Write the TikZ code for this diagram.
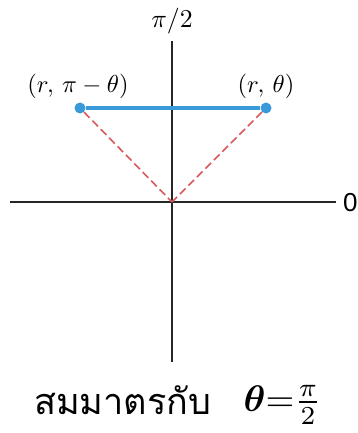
\documentclass[tikz,border=0pt]{standalone}
\usepackage{amsmath}
\usepackage{fontspec}
\newfontfamily\thaifont[Script=Thai]{Loma}
\newfontfamily\labfont{Liberation Sans}
\definecolor{ptblue}{HTML}{3A9AD9}
\definecolor{dashred}{HTML}{D9585A}
\begin{document}
\begin{tikzpicture}[x=1pt,y=-1pt,
  axis/.style={line width=1.3pt,black!85},
  pt/.style={circle,fill=ptblue,inner sep=0pt,minimum size=11pt},
  dashln/.style={dashred,line width=1.6pt,dash pattern=on 8pt off 4pt},
  lab/.style={inner sep=0pt,scale=2.45}]
\useasboundingbox (0,0) rectangle (358,433);
\coordinate (O) at (172,202);
\coordinate (T) at (172,41);
\coordinate (B) at (172,362);
\coordinate (L) at (10,202);
\coordinate (R) at (336,202);
\draw[axis] (T) -- (B);
\draw[axis] (L) -- (R);
\node[lab,scale=1.05] (ph) at (172,21) {$\pi/2$};
\node[inner sep=0pt,font=\labfont\fontsize{26}{28}\selectfont,anchor=west] (z) at (343,203) {0};
\node[pt] (P1) at (80,108) {};
\node[pt] (P2) at (266,108) {};
\draw[dashln] (P1) -- (O);
\draw[dashln] (P2) -- (O);
\draw[ptblue,line width=3.5pt] (P1) -- (P2);
\node[lab] (l1) at (78,86) {$(r,\,\pi-\theta)$};
\node[lab] (l2) at (266,86) {$(r,\,\theta)$};
\node[font=\thaifont\fontsize{36}{40}\selectfont,anchor=west,inner sep=0pt] (th) at (34,400) {สมมาตรกับ};
\node[inner sep=0pt,anchor=west,scale=3.7] (eq) at (243,405) {$\boldsymbol{\theta}{=}\frac{\pi}{2}$};
\end{tikzpicture}
\end{document}
